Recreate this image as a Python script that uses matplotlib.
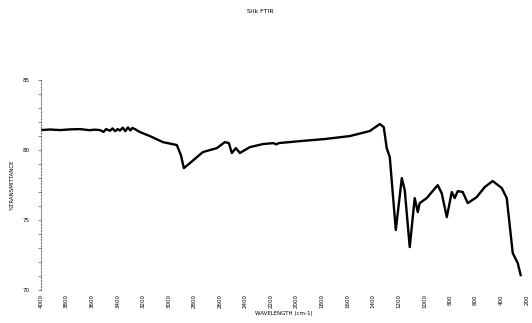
import matplotlib
matplotlib.use("Agg")
import matplotlib.pyplot as plt
import numpy as np

title = "Silk FTIR"
x_label = "WAVELENGTH (cm-1)"
y_label = "%TRANSMITTANCE"

wavenumber = [4000, 3930, 3851, 3770, 3695, 3620, 3580, 3539, 3510, 3490, 3460, 3440, 3420,
              3400, 3382, 3360, 3340, 3320, 3300, 3285, 3265, 3226, 3148, 3046, 2937,
              2905, 2882, 2835, 2733, 2624, 2561, 2530, 2507, 2475, 2444, 2366, 2264,
              2180, 2160, 2139, 1975, 1779, 1584, 1428, 1349, 1318, 1295, 1271, 1224, 1177, 1154,
              1115, 1076, 1052, 1037, 982, 896, 865, 825, 786, 763, 739, 700, 661,
              591, 528, 466, 395, 356, 309, 270, 247]
transmittance = [81.43, 81.47, 81.43, 81.48, 81.5, 81.42, 81.46, 81.43, 81.3, 81.5, 81.38, 81.55, 81.35,
                 81.5, 81.4, 81.6, 81.35, 81.62, 81.4, 81.58, 81.5, 81.29, 81.0, 80.57, 80.36,
                 79.64, 78.71, 79.07, 79.86, 80.14, 80.57, 80.5, 79.79, 80.14, 79.79, 80.21, 80.43,
                 80.5, 80.4, 80.5, 80.64, 80.79, 81.0, 81.36, 81.86, 81.64, 80.14, 79.5, 74.29, 78.0, 77.14,
                 73.07, 76.57, 75.57, 76.21, 76.57, 77.5, 76.93, 75.21, 77.0, 76.57, 77.07, 77.0, 76.21,
                 76.64, 77.36, 77.79, 77.29, 76.57, 72.64, 71.93, 71.07]

x_ticks = list(range(4000, 199, -200))
y_ticks = [70, 75, 80, 85]

fig = plt.figure(figsize=(5.32, 3.23), dpi=100)
ax = fig.add_axes([0.077, 0.102, 0.913, 0.650])
ax.plot(wavenumber, transmittance, color="black", lw=1.7)
ax.set_xlim(4000, 200)
ax.set_ylim(70, 85)
ax.set_xticks(x_ticks)
ax.set_xticklabels([str(v) for v in x_ticks], rotation=90, fontsize=4)
ax.set_yticks(y_ticks)
ax.set_yticklabels([str(v) for v in y_ticks], fontsize=4)
ax.set_yticks(np.arange(70, 85.1, 1), minor=True)
for s in ["top", "right", "bottom"]:
    ax.spines[s].set_visible(False)
ax.spines["left"].set_linestyle(":")
ax.spines["left"].set_color("#777777")
ax.spines["left"].set_linewidth(0.8)
ax.tick_params(axis="x", length=0, pad=3)
ax.tick_params(axis="y", which="both", length=2, width=0.6, color="#777777", pad=6)
ax.set_xlabel(x_label, fontsize=4, labelpad=2)
ax.set_ylabel(y_label, fontsize=4, labelpad=6)
fig.text(0.49, 0.965, title, ha="center", va="center", fontsize=4.5)
fig.savefig("out.png", dpi=100)
